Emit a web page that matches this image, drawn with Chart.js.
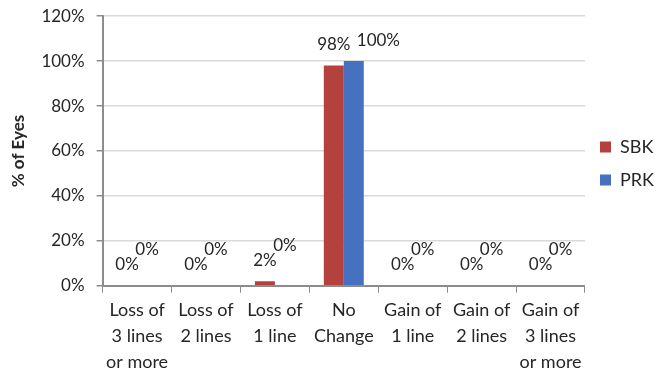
<!DOCTYPE html>
<html>
<head>
<meta charset="utf-8">
<script src="https://cdn.jsdelivr.net/npm/chart.js@4"></script>
<style>
    html, body { margin: 0; padding: 0; background: #fff; }
    #wrap { width: 658px; height: 373px; position: relative; }
</style>
</head>
<body>
<div id="wrap"><canvas id="myChart"></canvas></div>
<script>
const categories = [
    ['Loss of', '3 lines', 'or more'],
    ['Loss of', '2 lines'],
    ['Loss of', '1 line'],
    ['No', 'Change'],
    ['Gain of', '1 line'],
    ['Gain of', '2 lines'],
    ['Gain of', '3 lines', 'or more']
];
const sbkValues = [0, 0, 2, 98, 0, 0, 0];
const prkValues = [0, 0, 0, 100, 0, 0, 0];
const yTicks = [0, 20, 40, 60, 80, 100, 120];

const FONT = 'Lato, "Open Sans", sans-serif';

// % labels above each bar; when the PRK label would sit on top of the SBK one,
// push it up (short bars) or out to the right (tall bars), like Excel does
const barLabels = {
    id: 'barLabels',
    afterDatasetsDraw(chart) {
        const ctx = chart.ctx;
        ctx.save();
        ctx.font = '17px ' + FONT;
        ctx.fillStyle = '#262626';
        ctx.textBaseline = 'middle';
        const m0 = chart.getDatasetMeta(0);
        const m1 = chart.getDatasetMeta(1);
        m0.data.forEach((bar, i) => {
            ctx.textAlign = 'center';
            ctx.fillText(sbkValues[i] + '%', bar.x, bar.y - 21);
        });
        m1.data.forEach((bar, i) => {
            let x = bar.x;
            let y = bar.y - 21;
            const other = m0.data[i].y - 21;
            ctx.textAlign = 'center';
            if (Math.abs(y - other) < 14) {
                if (prkValues[i] > 0) {
                    ctx.textAlign = 'left';
                    x = bar.x + 3;
                } else {
                    y = other - 15;
                }
            }
            ctx.fillText(prkValues[i] + '%', x, y);
        });
        ctx.restore();
    }
};

const ctx = document.getElementById('myChart').getContext('2d');
new Chart(ctx, {
    type: 'bar',
    data: {
        labels: categories,
        datasets: [
            { label: 'SBK', data: sbkValues, backgroundColor: '#B3423F' },
            { label: 'PRK', data: prkValues, backgroundColor: '#4571C0' }
        ]
    },
    options: {
        responsive: true,
        maintainAspectRatio: false,
        animation: false,
        layout: { padding: { top: 1, right: -6, left: 8, bottom: -6 } },
        datasets: { bar: { categoryPercentage: 0.58, barPercentage: 1.0 } },
        plugins: {
            legend: {
                position: 'right',
                align: 'start',
                title: {
                    display: true,
                    text: ' ',
                    font: { size: 10 },
                    padding: { top: 110, bottom: 0 }
                },
                labels: {
                    boxWidth: 11,
                    boxHeight: 11,
                    padding: 15,
                    color: '#262626',
                    font: { family: FONT, size: 18 }
                }
            },
            tooltip: { enabled: false }
        },
        scales: {
            x: {
                grid: {
                    display: true,
                    drawOnChartArea: false,
                    offset: true,
                    tickLength: 7,
                    color: '#8C8C8C'
                },
                border: { color: '#8C8C8C', width: 2 },
                ticks: {
                    color: '#262626',
                    maxRotation: 0,
                    autoSkip: false,
                    padding: 4,
                    font: { family: FONT, size: 18, lineHeight: 1.45 }
                }
            },
            y: {
                min: 0,
                max: 120,
                afterBuildTicks(axis) {
                    axis.ticks = yTicks.map(v => ({ value: v }));
                },
                // the wide label gap shouldn't also push the plot top down
                afterFit(axis) {
                    axis.paddingTop -= 6;
                },
                grid: {
                    color: '#D9D9D9',
                    lineWidth: 1.5,
                    tickLength: 6,
                    tickColor: '#8C8C8C'
                },
                border: { color: '#8C8C8C', width: 2 },
                ticks: {
                    color: '#262626',
                    padding: 12,
                    font: { family: FONT, size: 17 },
                    callback: v => v + '%'
                },
                title: {
                    display: true,
                    text: '% of Eyes',
                    color: '#262626',
                    font: { family: FONT, size: 17, weight: 'bold' },
                    padding: { top: 0, bottom: 1 }
                }
            }
        }
    },
    plugins: [barLabels]
});
</script>
</body>
</html>
